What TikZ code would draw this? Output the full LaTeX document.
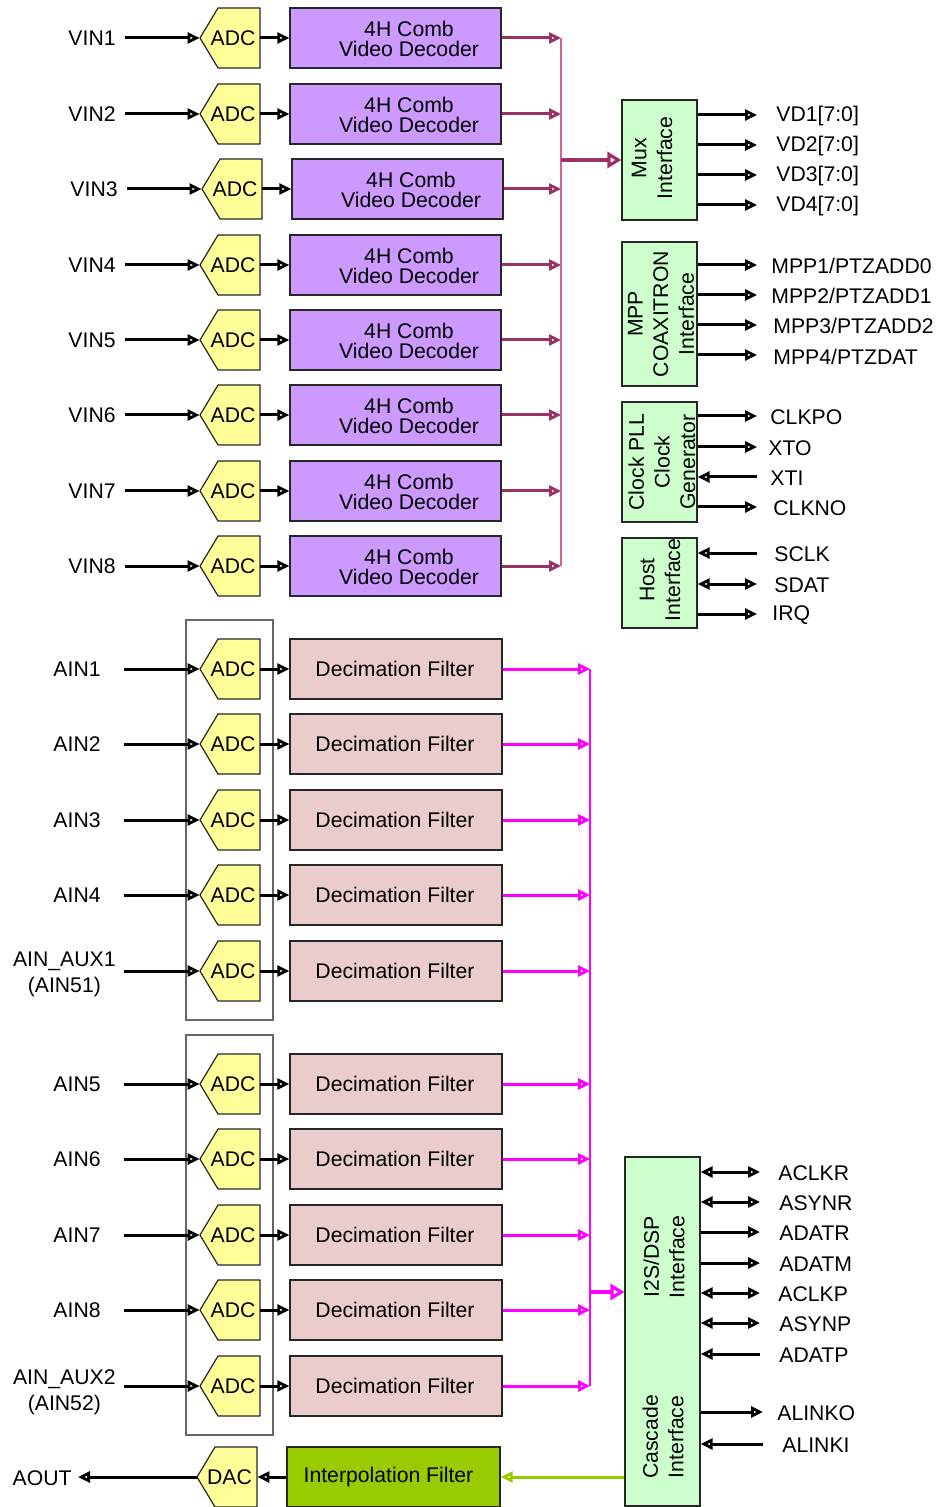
\documentclass[tikz,border=0pt]{standalone}
\usepackage{fontspec}
\setmainfont{Liberation Sans}
\usetikzlibrary{arrows.meta}
\definecolor{decpurple}{HTML}{CC99FF}
\definecolor{adcyellow}{HTML}{FFFF99}
\definecolor{ifgreen}{HTML}{CCFFCC}
\definecolor{decimpink}{HTML}{EBCCCC}
\definecolor{interpgreen}{HTML}{99CC00}
\definecolor{maroonline}{HTML}{993366}
\definecolor{maroonbus}{HTML}{CC6699}
\definecolor{magentaline}{HTML}{FF00FF}
\begin{document}
\begin{tikzpicture}[x=0.5pt,y=-0.5pt,
  font=\fontsize{10.6}{10.2}\selectfont,
  otip/.tip={Triangle[open,length=6pt,width=5.5pt,line width=1.4pt]},
  btip/.tip={Triangle[open,length=7pt,width=8pt,line width=1.6pt]},
  sigout/.style={line width=1.5pt,-otip},
  sigin/.style={line width=1.5pt,otip-},
  sigboth/.style={line width=1.5pt,otip-otip},
  vsig/.style={maroonline,line width=1.5pt,-otip},
  asig/.style={magentaline,line width=1.5pt,-otip},
  adcshape/.style={fill=adcyellow,draw=black!85,line width=0.6pt},
  adct/.style={minimum width=30pt,minimum height=30pt,inner sep=0pt},
  decbox/.style={draw=black!85,line width=0.7pt,fill=decpurple,minimum width=105.5pt,minimum height=30pt,inner sep=0pt},
  dmbox/.style={draw=black!85,line width=0.7pt,fill=decimpink,minimum width=106pt,minimum height=30pt,inner sep=0pt},
  ifbox/.style={draw=black!85,line width=0.6pt,fill=ifgreen,minimum width=37.5pt,inner sep=0pt},
  rtext/.style={rotate=90,align=center,inner sep=0pt,font=\fontsize{10.6}{12.8}\selectfont},
  rlbl/.style={anchor=west,inner sep=0pt},
  llbl/.style={anchor=east,inner sep=0pt},
  grp/.style={draw=black!60,line width=0.6pt,minimum width=43.5pt,minimum height=200pt,inner sep=0pt}
]
\useasboundingbox (0,0) rectangle (937,1507);

% ---------------- video section ----------------
\foreach \i/\y/\dx in {1/38/0,2/114/0,3/189/2,4/265/0,5/340/0,6/415/0,7/491/0,8/566/0}{
  \node[llbl] (vin\i) at (116+\dx,\y) {VIN\i};
  \coordinate (vins\i) at (125+\dx,\y);
  \path[adcshape] (200+\dx,\y) -- (218+\dx,\y-30) -- (260+\dx,\y-30) -- (260+\dx,\y+30) -- (218+\dx,\y+30) -- cycle;
  \node[adct] (adcv\i) at (230+\dx,\y) {\hspace*{3pt}ADC};
  \node[decbox] (dec\i) at (395.5+\dx,\y) {};
  \node[align=center,inner sep=0pt] (dect\i) at (409+\dx,\y+1) {4H Comb\\Video Decoder};
  \coordinate (vb\i) at (561,\y);
  \draw[sigout] (vins\i) -- (adcv\i.west);
  \draw[sigout] (adcv\i.east) -- (dec\i.west);
  \draw[vsig] (dec\i.east) -- (vb\i);
}
\draw[maroonbus,line width=1.1pt] (vb1) -- (vb8);

% Mux interface
\node[ifbox,minimum height=60pt] (mux) at (659.5,160) {};
\node[rtext] (muxt) at (652,158) {Mux\\Interface};
\coordinate (vbm) at (561,160);
\draw[maroonline,line width=1.6pt,-btip] (vbm) -- (mux.west);
\foreach \j/\y/\lx in {1/115/776,2/145/776,3/175/776,4/205/776}{
  \node[rlbl] (vd\j) at (\lx,\y+1) {VD\j[7:0]};
  \draw[sigout] (mux.east |- 0,\y) -- (757,\y);
}

% MPP
\node[ifbox,minimum height=72pt] (mpp) at (659.5,314) {};
\node[rtext] (mppt) at (661,314) {MPP\\COAXITRON\\Interface};
\node[rlbl] (mppl1) at (771,266) {MPP1/PTZADD0};
\node[rlbl] (mppl2) at (771,296) {MPP2/PTZADD1};
\node[rlbl] (mppl3) at (773,326) {MPP3/PTZADD2};
\node[rlbl] (mppl4) at (773,357) {MPP4/PTZDAT};
\foreach \j/\y in {1/265,2/295,3/325,4/355}{
  \draw[sigout] (mpp.east |- 0,\y) -- (757,\y);
}

% Clock
\node[ifbox,minimum height=60pt] (clk) at (659.5,462) {};
\node[rtext] (clkt) at (662,462) {Clock PLL\\Clock\\Generator};
\foreach \n/\y/\lx/\st in {CLKPO/416/770/sigout,XTO/447/768/sigout,XTI/477/770/sigin,CLKNO/507/773/sigout}{
  \node[rlbl] (cl\n) at (\lx,\y+1) {\n};
  \draw[\st] (clk.east |- 0,\y) -- (757,\y);
}

% Host
\node[ifbox,minimum height=45pt] (host) at (659.5,583) {};
\node[rtext] (hostt) at (660,580) {Host\\Interface};
\foreach \n/\y/\lx/\st in {SCLK/553/774/sigin,SDAT/584/774/sigboth,IRQ/614/772/sigout}{
  \node[rlbl] (hl\n) at (\lx,\y+1) {\n};
  \draw[\st] (host.east |- 0,\y) -- (757,\y);
}

% ---------------- audio section ----------------
\node[grp] (grp1) at (229.5,820) {};
\node[grp] (grp2) at (229.5,1235) {};
\node[ifbox,minimum height=174.5pt] (i2s) at (662.5,1331.5) {};
\node[rtext] (i2st) at (664,1257) {I2S/DSP\\Interface};
\node[rtext] (casct) at (663,1437) {Cascade\\Interface};

\foreach \i/\y in {1/669,2/744,3/820,4/895,5/971,6/1084,7/1159,8/1235,9/1310,10/1386}{
  \coordinate (ains\i) at (124,\y);
  \path[adcshape] (200,\y) -- (218,\y-30) -- (260,\y-30) -- (260,\y+30) -- (218,\y+30) -- cycle;
  \node[adct] (adca\i) at (230,\y) {\hspace*{3pt}ADC};
  \node[dmbox] (dm\i) at (396,\y) {\hspace*{-1pt}Decimation Filter};
  \coordinate (ab\i) at (590,\y);
  \draw[sigout] (ains\i) -- (adca\i.west);
  \draw[sigout] (adca\i.east) -- (dm\i.west);
  \draw[asig] (dm\i.east) -- (ab\i);
}
\foreach \i/\y/\n in {1/669/AIN1,2/744/AIN2,3/820/AIN3,4/895/AIN4,6/1084/AIN5,7/1159/AIN6,8/1235/AIN7,9/1310/AIN8}{
  \node[llbl] (ainl\i) at (101,\y) {\n};
}
\node[llbl,align=center,font=\fontsize{10.6}{13}\selectfont] (ainl5) at (116,974) {AIN\_AUX1\\(AIN51)};
\node[llbl,align=center,font=\fontsize{10.6}{13}\selectfont] (ainl10) at (116,1392) {AIN\_AUX2\\(AIN52)};

\draw[magentaline,line width=1.1pt] (ab1) -- (ab10);
\coordinate (abm) at (590,1292);
\draw[magentaline,line width=1.6pt,-btip] (abm) -- (abm -| i2s.west);

\foreach \n/\y/\lx/\ex/\st in {ACLKR/1172/778/760/sigboth,ASYNR/1202/779/760/sigboth,ADATR/1232/779/760/sigout,ADATM/1263/779/760/sigout,ACLKP/1293/778/760/sigboth,ASYNP/1323/779/760/sigboth,ADATP/1354/779/760/sigin,ALINKO/1412/777/763/sigout,ALINKI/1444/782/763/sigin}{
  \node[rlbl] (al\n) at (\lx,\y+1) {\n};
  \draw[\st] (i2s.east |- 0,\y) -- (\ex,\y);
}

% interpolation / DAC
\node[draw=black!85,line width=0.7pt,fill=interpgreen,minimum width=106.5pt,minimum height=30pt,inner sep=0pt] (interp) at (393.5,1477) {\hspace*{-5pt}Interpolation Filter};
\path[adcshape] (197,1477) -- (215,1447) -- (257,1447) -- (257,1507) -- (215,1507) -- cycle;
\node[adct] (dac) at (227,1477) {\hspace*{2.5pt}DAC};
\node[anchor=east,inner sep=3pt] (aout) at (78,1478) {AOUT};
\draw[sigout] (interp.west) -- (dac.east);
\draw[sigout] (dac.west) -- (aout.east |- dac.west);
\draw[interpgreen,line width=1.5pt,-otip] (i2s.west |- interp) -- (interp.east);
\end{tikzpicture}
\end{document}
